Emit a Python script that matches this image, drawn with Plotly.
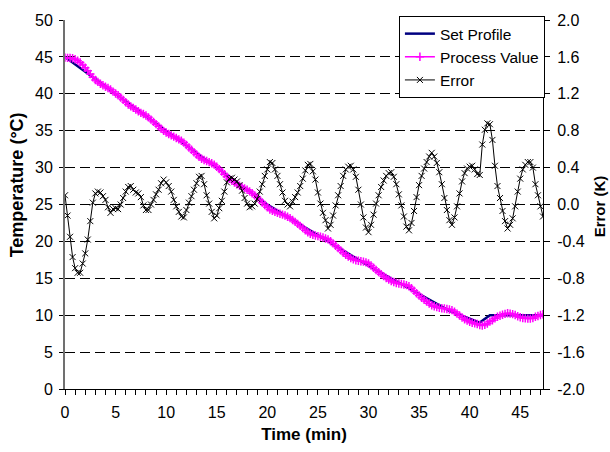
import plotly.graph_objects as go

# ---------------- data ----------------
# sampling grid of the logged data: every 0.25 min from 0 to 47.25 min
time_min = [i * 0.25 for i in range(190)]

# Set profile break points (line through them)
sp_time = [0, 20, 30, 36.4, 38, 41, 42, 47.25]
sp_value = [45, 25, 16.7, 11.8, 10.6, 9.0, 10.0, 10.0]

# Error (K) = set - process, every 0.25 min
error_k = [
    0.10, -0.12, -0.35, -0.57, -0.69, -0.74, -0.74, -0.64, -0.53, -0.38,
    -0.18, 0.02, 0.12, 0.14, 0.13, 0.09, 0.05, -0.03, -0.09, -0.05,
    -0.04, -0.05, 0.00, 0.07, 0.14, 0.19, 0.20, 0.16, 0.13, 0.12,
    0.08, -0.01, -0.06, -0.06, 0.00, 0.05, 0.11, 0.16, 0.23, 0.27,
    0.24, 0.20, 0.14, 0.05, -0.02, -0.08, -0.13, -0.14, -0.06, 0.02,
    0.09, 0.16, 0.23, 0.30, 0.31, 0.22, 0.10, 0.01, -0.08, -0.15,
    -0.12, -0.04, 0.04, 0.14, 0.24, 0.28, 0.29, 0.27, 0.25, 0.21,
    0.15, 0.07, 0.01, -0.03, -0.02, 0.01, 0.06, 0.14, 0.22, 0.31,
    0.38, 0.46, 0.45, 0.38, 0.31, 0.22, 0.13, 0.04, 0.00, -0.02,
    0.03, 0.08, 0.13, 0.20, 0.28, 0.37, 0.43, 0.44, 0.36, 0.27,
    0.13, 0.01, -0.09, -0.17, -0.26, -0.22, -0.12, -0.01, 0.10, 0.20,
    0.31, 0.38, 0.41, 0.42, 0.38, 0.30, 0.16, 0.00, -0.14, -0.25,
    -0.30, -0.22, -0.11, 0.01, 0.10, 0.19, 0.26, 0.31, 0.34, 0.35,
    0.30, 0.22, 0.11, -0.01, -0.13, -0.24, -0.28, -0.20, -0.07, 0.08,
    0.21, 0.31, 0.39, 0.46, 0.52, 0.56, 0.52, 0.45, 0.35, 0.22,
    0.07, -0.06, -0.17, -0.22, -0.14, -0.02, 0.12, 0.25, 0.34, 0.39,
    0.41, 0.42, 0.38, 0.33, 0.32, 0.65, 0.81, 0.88, 0.87, 0.70,
    0.42, 0.20, 0.07, -0.07, -0.18, -0.26, -0.22, -0.15, -0.02, 0.14,
    0.28, 0.38, 0.43, 0.46, 0.46, 0.40, 0.22, 0.10, -0.02, -0.13,
]

# Process value (degC), every 0.25 min
process_value = [
    44.90, 44.87, 44.85, 44.82, 44.69, 44.49, 44.24, 43.89, 43.53, 43.13,
    42.68, 42.23, 41.88, 41.61, 41.37, 41.16, 40.95, 40.78, 40.59, 40.30,
    40.04, 39.80, 39.50, 39.18, 38.86, 38.56, 38.30, 38.09, 37.87, 37.63,
    37.42, 37.26, 37.06, 36.81, 36.50, 36.20, 35.89, 35.59, 35.27, 34.98,
    34.76, 34.55, 34.36, 34.20, 34.02, 33.83, 33.63, 33.39, 33.06, 32.73,
    32.41, 32.09, 31.77, 31.45, 31.19, 31.03, 30.90, 30.74, 30.58, 30.40,
    30.12, 29.79, 29.46, 29.11, 28.76, 28.47, 28.21, 27.98, 27.75, 27.54,
    27.35, 27.18, 26.99, 26.78, 26.52, 26.24, 25.94, 25.61, 25.28, 24.94,
    24.62, 24.33, 24.14, 24.00, 23.86, 23.74, 23.63, 23.51, 23.34, 23.15,
    22.90, 22.64, 22.38, 22.10, 21.82, 21.52, 21.25, 21.03, 20.91, 20.79,
    20.72, 20.63, 20.53, 20.40, 20.28, 20.03, 19.73, 19.41, 19.09, 18.78,
    18.47, 18.19, 17.95, 17.73, 17.57, 17.44, 17.37, 17.32, 17.26, 17.16,
    17.00, 16.73, 16.43, 16.12, 15.83, 15.55, 15.29, 15.05, 14.83, 14.63,
    14.49, 14.37, 14.29, 14.22, 14.15, 14.07, 13.92, 13.65, 13.32, 12.98,
    12.66, 12.37, 12.10, 11.84, 11.58, 11.35, 11.21, 11.09, 11.00, 10.94,
    10.91, 10.85, 10.77, 10.69, 10.47, 10.22, 9.95, 9.68, 9.46, 9.28,
    9.12, 8.98, 8.89, 8.80, 8.68, 8.60, 8.69, 8.87, 9.13, 9.30,
    9.58, 9.80, 9.93, 10.07, 10.18, 10.26, 10.22, 10.15, 10.02, 9.86,
    9.72, 9.62, 9.57, 9.54, 9.54, 9.60, 9.78, 9.90, 10.02, 10.13,
]

temp_ticks = [0, 5, 10, 15, 20, 25, 30, 35, 40, 45, 50]
err_ticks = [-2.0, -1.6, -1.2, -0.8, -0.4, 0.0, 0.4, 0.8, 1.2, 1.6, 2.0]
err_labels = ["-2.0", "-1.6", "-1.2", "-0.8", "-0.4", "0.0", "0.4", "0.8", "1.2", "1.6", "2.0"]
time_ticks = [0, 5, 10, 15, 20, 25, 30, 35, 40, 45]

# ---------------- figure ----------------
FONT = "Liberation Sans, Arial, sans-serif"

fig = go.Figure()
fig.add_trace(go.Scatter(
    x=sp_time, y=sp_value, name="Set Profile", mode="lines",
    line=dict(color="#000080", width=2.5), yaxis="y"))
fig.add_trace(go.Scatter(
    x=time_min, y=process_value, name="Process Value", mode="lines+markers",
    line=dict(color="#FF00FF", width=1.5),
    marker=dict(symbol="cross-thin", size=6, color="#FF00FF",
                line=dict(color="#FF00FF", width=1.5)),
    yaxis="y"))
fig.add_trace(go.Scatter(
    x=time_min, y=error_k, name="Error", mode="lines+markers",
    line=dict(color="#000000", width=1),
    marker=dict(symbol="x-thin", size=6, color="#000000",
                line=dict(color="#000000", width=1)),
    yaxis="y2"))

fig.update_layout(
    width=610, height=452,
    margin=dict(l=65, r=67, t=16, b=63),
    paper_bgcolor="white", plot_bgcolor="white",
    font=dict(family=FONT, size=16, color="black"),
    showlegend=True,
    legend=dict(x=1.004, y=1.0107, xanchor="right", yanchor="top",
                bgcolor="white", bordercolor="black", borderwidth=1,
                font=dict(family=FONT, size=15.5, color="black"),
                tracegroupgap=0),
    xaxis=dict(range=[0, 47.25], tickvals=time_ticks,
               ticks="outside", ticklen=5, tickcolor="black",
               minor=dict(dtick=1, tick0=0, ticks="outside", ticklen=5, tickcolor="black"),
               showline=True, linecolor="black", linewidth=1,
               showgrid=False, zeroline=False,
               tickfont=dict(size=16), ticklabelstandoff=4,
               title=dict(text="<b>Time (min)</b>", font=dict(size=17), standoff=7)),
    yaxis=dict(range=[0, 50], tickvals=temp_ticks,
               ticks="outside", ticklen=4, tickcolor="black",
               showline=True, linecolor="#707070", linewidth=2,
               showgrid=True, gridcolor="black", gridwidth=1, griddash="10px,5px",
               zeroline=False, tickfont=dict(size=16), ticklabelstandoff=3),
    yaxis2=dict(range=[-2, 2], tickvals=err_ticks, ticktext=err_labels,
                overlaying="y", side="right", anchor="x",
                ticks="outside", ticklen=6, tickcolor="black",
                showline=True, linecolor="black", linewidth=1,
                showgrid=False, zeroline=False, tickfont=dict(size=16),
                ticklabelstandoff=4),
    annotations=[
        dict(text="<b>Temperature (°C)</b>", textangle=-90, showarrow=False,
             xref="paper", yref="paper", x=-0.1004, y=0.552,
             xanchor="center", yanchor="middle", font=dict(size=18)),
        dict(text="<b>Error (K)</b>", textangle=-90, showarrow=False,
             xref="paper", yref="paper", x=1.1171, y=0.495,
             xanchor="center", yanchor="middle", font=dict(size=15)),
    ],
)

fig.write_html("out.html")
